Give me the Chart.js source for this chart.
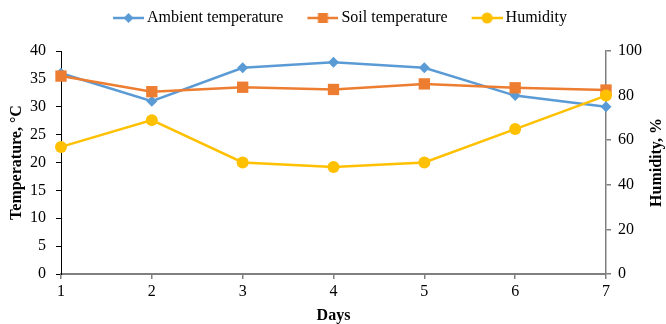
<!DOCTYPE html>
<html>
<head>
<meta charset="utf-8">
<script src="https://cdn.jsdelivr.net/npm/chart.js@4/dist/chart.umd.min.js"></script>
<style>
  html, body { margin: 0; padding: 0; background: #fff; }
  #wrap { width: 666px; height: 324px; }
</style>
</head>
<body>
<div id="wrap"><canvas id="chart" width="666" height="324"></canvas></div>
<script>
const days = ['1', '2', '3', '4', '5', '6', '7'];
const ambientTemp = [36, 31, 37, 38, 37, 32, 30];
const soilTemp = [35.5, 32.7, 33.5, 33.1, 34.1, 33.4, 33.0];
const humidity = [57, 69, 50, 48, 50, 65, 80];
const tempTicks = { min: 0, max: 40, step: 5 };
const humTicks = { min: 0, max: 100, step: 20 };

const blue = '#5b9bd5';
const orange = '#ed7d31';
const yellow = '#ffc000';
const serif = 'Liberation Serif';

// legend swatch: line with the marker in the middle
function legendMarker(color, style) {
    let c = document.createElement('canvas');
    c.width = 50;
    c.height = 16;
    let g = c.getContext('2d');
    g.strokeStyle = color;
    g.fillStyle = color;
    g.lineWidth = 2.5;
    g.beginPath();
    g.moveTo(19, 8);
    g.lineTo(50, 8);
    g.stroke();
    let cx = 34.5, cy = 8;
    g.beginPath();
    if (style === 'diamond') {
        g.moveTo(cx, cy - 5); g.lineTo(cx + 5, cy); g.lineTo(cx, cy + 5); g.lineTo(cx - 5, cy);
        g.closePath();
    } else if (style === 'square') {
        g.rect(cx - 5, cy - 5, 10, 10);
    } else {
        g.arc(cx, cy, 5.5, 0, Math.PI * 2);
    }
    g.fill();
    return c;
}
const legendImages = [
    legendMarker(blue, 'diamond'),
    legendMarker(orange, 'square'),
    legendMarker(yellow, 'circle')
];

const layoutFix = {
    id: 'layoutFix',
    afterInit(chart) {
        const legend = chart.legend;
        const origFit = legend.fit;
        legend.fit = function () {
            origFit.call(this);
            this.height += 15;
        };
    },
    afterDraw(chart) {
        // right axis title, reading bottom to top
        const ctx = chart.ctx;
        const area = chart.chartArea;
        ctx.save();
        ctx.translate(chart.width - 9, (area.top + area.bottom) / 2);
        ctx.rotate(-Math.PI / 2);
        ctx.font = 'bold 16px "' + serif + '"';
        ctx.fillStyle = '#000';
        ctx.textAlign = 'center';
        ctx.textBaseline = 'middle';
        ctx.fillText('Humidity, %', 0, 0);
        ctx.restore();
    }
};

let config = {
    type: 'line',
    data: {
        labels: days,
        datasets: [{
            label: 'Ambient temperature',
            data: ambientTemp,
            yAxisID: 'y',
            borderColor: blue,
            backgroundColor: blue,
            borderWidth: 2.5,
            pointStyle: 'rectRot',
            pointRadius: 5.5,
            pointHoverRadius: 5.5,
            pointBorderWidth: 0,
            order: 3,
            clip: false,
        }, {
            label: 'Soil temperature',
            data: soilTemp,
            yAxisID: 'y',
            borderColor: orange,
            backgroundColor: orange,
            borderWidth: 2.5,
            pointStyle: 'rect',
            pointRadius: 8,
            pointHoverRadius: 8,
            pointBorderWidth: 0,
            order: 2,
            clip: false,
        }, {
            label: 'Humidity',
            data: humidity,
            yAxisID: 'y1',
            borderColor: yellow,
            backgroundColor: yellow,
            borderWidth: 2.5,
            pointStyle: 'circle',
            pointRadius: 6,
            pointHoverRadius: 6,
            pointBorderWidth: 0,
            order: 1,
            clip: false,
        }]
    },
    options: {
        responsive: false,
        animation: false,
        layout: { padding: 0 },
        plugins: {
            tooltip: { enabled: false },
            legend: {
                position: 'top',
                labels: {
                    usePointStyle: true,
                    pointStyleWidth: 40,
                    padding: 10,
                    color: '#000',
                    font: { family: serif, size: 16 },
                    sort: (a, b) => a.datasetIndex - b.datasetIndex,
                    generateLabels(chart) {
                        let items = Chart.defaults.plugins.legend.labels.generateLabels(chart);
                        items.forEach(function (it) {
                            it.pointStyle = legendImages[it.datasetIndex];
                            it.rotation = 0;
                        });
                        return items;
                    }
                }
            }
        },
        scales: {
            x: {
                type: 'category',
                offset: false,
                afterFit(scale) { scale.height = 50; },
                grid: { drawOnChartArea: false, drawTicks: true, tickLength: 5, color: '#808080', lineWidth: 1.5 },
                border: { display: true, color: '#808080', width: 2 },
                ticks: { color: '#000', padding: 3, font: { family: serif, size: 16 }, maxRotation: 0 },
                title: {
                    display: true,
                    text: 'Days',
                    color: '#000',
                    padding: { top: 0, bottom: 0 },
                    font: { family: serif, size: 16, weight: 'bold', lineHeight: 1 }
                }
            },
            y: {
                position: 'left',
                min: tempTicks.min,
                max: tempTicks.max,
                afterFit(scale) { scale.width = 61; },
                grid: { drawOnChartArea: false, drawTicks: true, tickLength: 5, color: '#000', lineWidth: 1 },
                border: { display: true, color: '#000', width: 1 },
                ticks: { stepSize: tempTicks.step, color: '#000', padding: 10, font: { family: serif, size: 16 } },
                title: {
                    display: true,
                    text: 'Temperature, °C',
                    color: '#000',
                    padding: { top: 9, bottom: 0 },
                    font: { family: serif, size: 16, weight: 'bold', lineHeight: 1 }
                }
            },
            y1: {
                position: 'right',
                min: humTicks.min,
                max: humTicks.max,
                afterFit(scale) { scale.width = 60; },
                grid: { drawOnChartArea: false, drawTicks: true, tickLength: 5, color: '#7f7f7f', lineWidth: 1.5 },
                border: { display: true, color: '#7f7f7f', width: 1.5 },
                ticks: { stepSize: humTicks.step, color: '#000', padding: 7, font: { family: serif, size: 16 } },
                title: { display: false }
            }
        }
    },
    plugins: [layoutFix]
};

let chart = new Chart(document.getElementById('chart').getContext('2d'), config);
</script>
</body>
</html>
